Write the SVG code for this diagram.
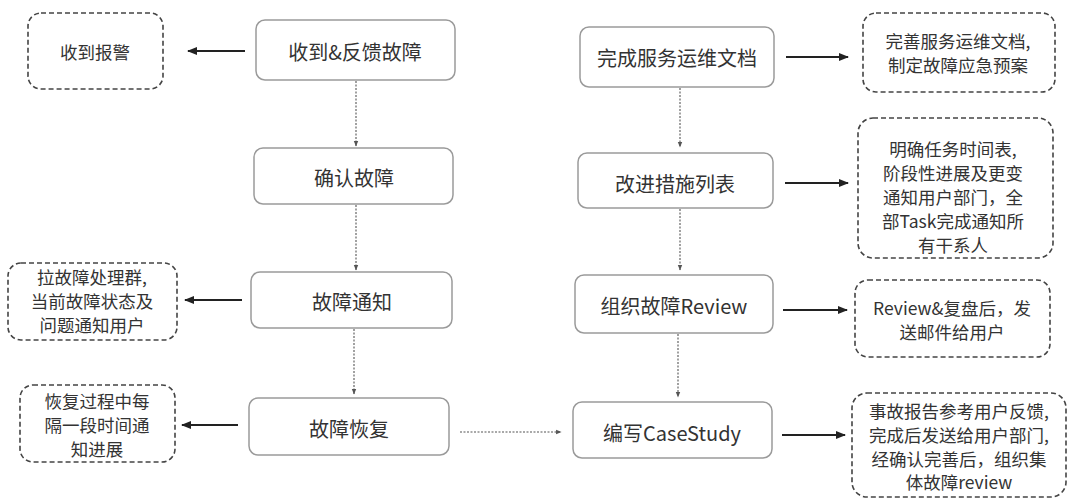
<svg xmlns="http://www.w3.org/2000/svg" width="1069" height="499" viewBox="0 0 1069 499">
<defs>
<marker id="ah" viewBox="0 0 10 10" refX="9" refY="5" markerWidth="5" markerHeight="5" orient="auto"><path d="M0,1 L10,5 L0,9 z" fill="#222"/></marker>
<marker id="ahs" viewBox="0 0 10 10" refX="9" refY="5" markerWidth="5" markerHeight="5" orient="auto"><path d="M0,1 L10,5 L0,9 z" fill="#555"/></marker>
<style>
.main{fill:#fff;stroke:#9a9a9a;stroke-width:1.5}
.note{fill:#fff;stroke:#444;stroke-width:1.6;stroke-dasharray:5 3}
.t{font-family:"Noto Sans CJK SC","Noto Sans",sans-serif;font-size:20px;fill:#333;text-anchor:middle;dominant-baseline:central}
.n{font-family:"Noto Sans CJK SC","Noto Sans",sans-serif;font-size:17.5px;fill:#333;text-anchor:middle;dominant-baseline:central}
.solid{stroke:#222;stroke-width:2;fill:none;marker-end:url(#ah)}
.dot{stroke:#555;stroke-width:1.1;stroke-dasharray:2 1.5;fill:none;marker-end:url(#ahs)}
</style>
</defs>
<rect width="1069" height="499" fill="#fff"/>
<g id="connectors">
<line class="solid" x1="245" y1="51" x2="188" y2="51"/>
<line class="solid" x1="242" y1="300" x2="185" y2="300"/>
<line class="solid" x1="238" y1="425" x2="182" y2="425"/>
<line class="dot" x1="356" y1="81" x2="356" y2="146"/>
<line class="dot" x1="356" y1="205" x2="356" y2="270"/>
<line class="dot" x1="354" y1="329" x2="354" y2="394"/>
<line class="dot" x1="460" y1="432" x2="561" y2="432"/>
<line class="dot" x1="680" y1="88" x2="680" y2="147"/>
<line class="dot" x1="680" y1="209" x2="680" y2="270"/>
<line class="dot" x1="678" y1="334" x2="678" y2="397"/>
<line class="solid" x1="786" y1="57" x2="848" y2="57"/>
<line class="solid" x1="785" y1="183" x2="848" y2="183"/>
<line class="solid" x1="783" y1="310" x2="847" y2="310"/>
<line class="solid" x1="782" y1="435" x2="845" y2="435"/>
</g>
<g id="n-alarm"><rect class="note" x="28" y="13" width="135" height="76" rx="13"/><text class="n" x="95" y="51">收到报警</text></g>
<g id="n-group"><rect class="note" x="8" y="263" width="169" height="77" rx="13"/><text class="n" x="92" y="276">拉故障处理群,</text><text class="n" x="92" y="300">当前故障状态及</text><text class="n" x="92" y="324">问题通知用户</text></g>
<g id="n-progress"><rect class="note" x="20" y="385" width="155" height="77" rx="13"/><text class="n" x="97" y="400">恢复过程中每</text><text class="n" x="97" y="424">隔一段时间通</text><text class="n" x="97" y="448">知进展</text></g>
<g id="m-receive"><rect class="main" x="256" y="20" width="199" height="60" rx="9"/><text class="t" x="355" y="51">收到&amp;反馈故障</text></g>
<g id="m-confirm"><rect class="main" x="254" y="148" width="199" height="56" rx="9"/><text class="t" x="354" y="177">确认故障</text></g>
<g id="m-notify"><rect class="main" x="251" y="272" width="201" height="56" rx="9"/><text class="t" x="352" y="301">故障通知</text></g>
<g id="m-recover"><rect class="main" x="249" y="398" width="200" height="57" rx="9"/><text class="t" x="349" y="428">故障恢复</text></g>
<g id="m-doc"><rect class="main" x="580" y="27" width="194" height="60" rx="9"/><text class="t" x="677" y="57">完成服务运维文档</text></g>
<g id="m-improve"><rect class="main" x="578" y="153" width="195" height="55" rx="9"/><text class="t" x="675" y="183">改进措施列表</text></g>
<g id="m-review"><rect class="main" x="575" y="275" width="198" height="58" rx="9"/><text class="t" x="674" y="305">组织故障Review</text></g>
<g id="m-case"><rect class="main" x="573" y="402" width="199" height="56" rx="9"/><text class="t" x="672" y="432">编写CaseStudy</text></g>
<g id="n-doc"><rect class="note" x="863" y="13" width="192" height="79" rx="13"/><text class="n" x="958" y="40">完善服务运维文档,</text><text class="n" x="958" y="64">制定故障应急预案</text></g>
<g id="n-improve"><rect class="note" x="858" y="118" width="195" height="140" rx="15"/><text class="n" x="953" y="148">明确任务时间表,</text><text class="n" x="953" y="172">阶段性进展及更变</text><text class="n" x="953" y="196">通知用户部门，全</text><text class="n" x="953" y="220">部Task完成通知所</text><text class="n" x="953" y="244">有干系人</text></g>
<g id="n-review"><rect class="note" x="855" y="280" width="195" height="77" rx="13"/><text class="n" x="952" y="307">Review&amp;复盘后，发</text><text class="n" x="952" y="331">送邮件给用户</text></g>
<g id="n-case"><rect class="note" x="852" y="393" width="214" height="104" rx="15"/><text class="n" x="959" y="410">事故报告参考用户反馈,</text><text class="n" x="959" y="434">完成后发送给用户部门,</text><text class="n" x="959" y="458">经确认完善后，组织集</text><text class="n" x="959" y="481">体故障review</text></g>
</svg>
